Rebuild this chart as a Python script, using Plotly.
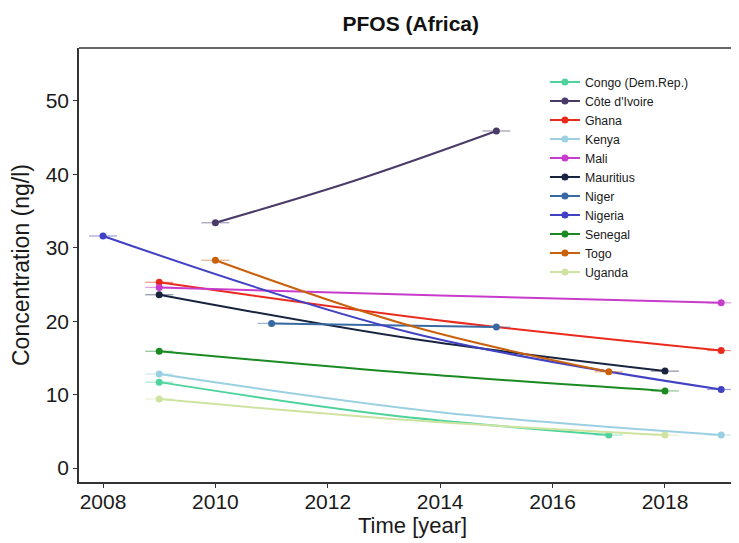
import plotly.graph_objects as go

countries = ["Congo (Dem.Rep.)", "Côte d'Ivoire", "Ghana", "Kenya", "Mali", "Mauritius",
             "Niger", "Nigeria", "Senegal", "Togo", "Uganda"]
colors = ["#4fd39c", "#4a3a68", "#ea2a1c", "#9ad0e2", "#c83ccc", "#17233f",
          "#3869a3", "#4141c4", "#1b8a22", "#c9610c", "#cfe3a0"]
err_colors = ["rgba(79,211,156,0.5)", "rgba(74,58,104,0.5)", "rgba(234,42,28,0.5)",
              "rgba(154,208,226,0.5)", "rgba(200,60,204,0.5)", "rgba(23,35,63,0.5)",
              "rgba(56,105,163,0.5)", "rgba(65,65,196,0.5)", "rgba(27,138,34,0.5)",
              "rgba(201,97,12,0.5)", "rgba(207,227,160,0.5)"]

start_year = [2009, 2010, 2009, 2009, 2009, 2009, 2011, 2008, 2009, 2010, 2009]
end_year = [2017, 2015, 2019, 2019, 2019, 2018, 2015, 2019, 2018, 2017, 2018]
start_val = [11.7, 33.4, 25.3, 12.8, 24.6, 23.6, 19.7, 31.6, 15.9, 28.3, 9.4]
end_val = [4.5, 45.9, 16.0, 4.5, 22.5, 13.2, 19.2, 10.7, 10.5, 13.1, 4.5]
# trend-line value read at the middle of each period
mid_val = [7.3, 39.2, 20.1, 7.6, 23.5, 17.6, 19.45, 18.4, 12.9, 19.3, 6.5]
year_err = [0.25] * 11

x_ticks = [2008, 2010, 2012, 2014, 2016, 2018]
y_ticks = [0, 10, 20, 30, 40, 50]

FONT = "Liberation Sans, Arial, sans-serif"

fig = go.Figure()
for i, c in enumerate(countries):
    xs = [start_year[i], (start_year[i] + end_year[i]) / 2, end_year[i]]
    ys = [start_val[i], mid_val[i], end_val[i]]
    fig.add_trace(go.Scatter(
        x=xs, y=ys, name=c, mode="lines+markers",
        line=dict(color=colors[i], width=2, shape="spline"),
        marker=dict(size=7, color=[colors[i], "rgba(0,0,0,0)", colors[i]]),
        error_x=dict(type="data", array=[year_err[i], 0, year_err[i]],
                     color=err_colors[i], thickness=1.2, width=0),
    ))

axis_common = dict(showline=True, linecolor="#333333", linewidth=1.5,
                   ticks="outside", ticklen=4, tickcolor="#333333", tickwidth=1.2,
                   showgrid=False, zeroline=False, automargin=False,
                   tickfont=dict(family=FONT, size=21, color="#1a1a1a"))

# the page body adds an 8px margin, so the figure is 8px smaller than the window
fig.update_layout(
    width=731, height=535,
    margin=dict(l=71, r=0, t=40, b=61),
    paper_bgcolor="white", plot_bgcolor="white",
    title=dict(text="<b>PFOS (Africa)</b>", x=0.551, xanchor="center", y=0.971, yanchor="middle",
               font=dict(family=FONT, size=21, color="#111111")),
    xaxis=dict(range=[2007.573, 2019.317], tickvals=x_ticks, ticklabelstandoff=-4,
               **axis_common),
    yaxis=dict(range=[-1.9, 57.2], tickvals=y_ticks,
               title=dict(text="Concentration (ng/l)", standoff=12,
                          font=dict(family=FONT, size=23, color="#1a1a1a")),
               **axis_common),
    legend=dict(x=0.706, y=0.955, xanchor="left", yanchor="top",
                bgcolor="rgba(0,0,0,0)", borderwidth=0,
                font=dict(family=FONT, size=12.3, color="#1a1a1a")),
    showlegend=True,
    shapes=[dict(type="line", xref="paper", yref="paper", x0=0, x1=1, y0=1, y1=1,
                 line=dict(color="#333333", width=1.5))],
    annotations=[dict(text="Time [year]", xref="paper", yref="paper",
                      x=0.506, y=-0.100, xanchor="center", yanchor="middle",
                      showarrow=False,
                      font=dict(family=FONT, size=22, color="#1a1a1a"))],
)

fig.write_html("out.html")
